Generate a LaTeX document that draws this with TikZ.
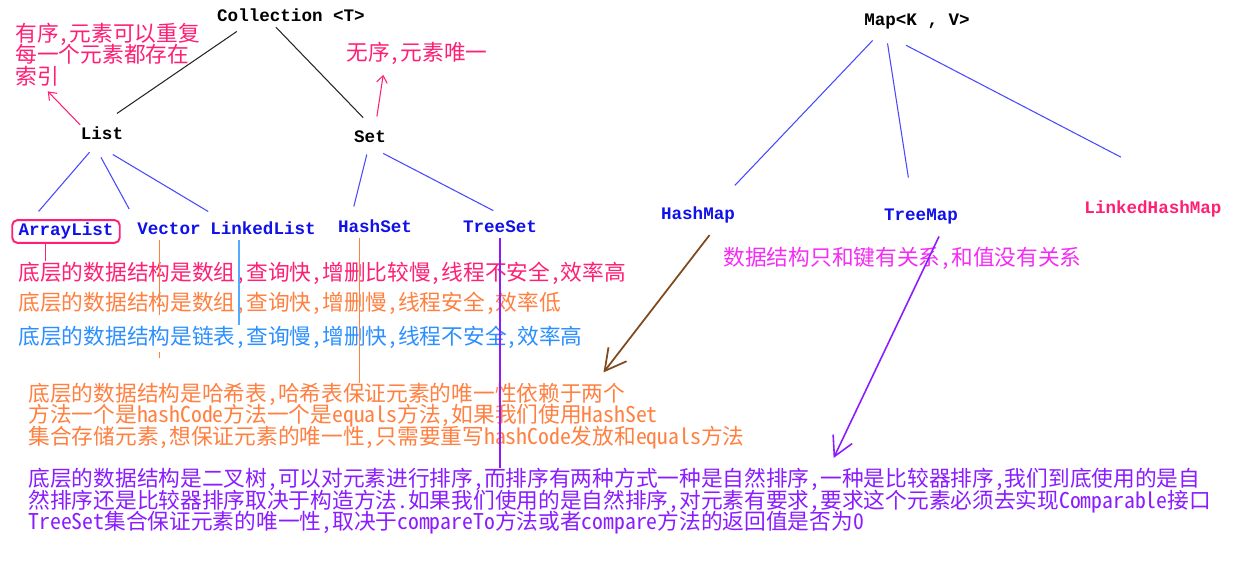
\documentclass[tikz,border=0pt]{standalone}
\usepackage{fontspec}
\newfontfamily\codefont{Liberation Mono}
\newfontfamily\cjkfont[RawFeature=+hwid]{Noto Sans CJK SC}
\usetikzlibrary{arrows.meta}

\definecolor{rose}{HTML}{FF1F74}
\definecolor{lineblue}{HTML}{4848FF}
\definecolor{labelblue}{HTML}{1010E8}
\definecolor{orangea}{HTML}{FF8040}
\definecolor{skyblue}{HTML}{2B8FFF}
\definecolor{linkblue}{HTML}{55AAFF}
\definecolor{violeta}{HTML}{8A1CFF}
\definecolor{magentaa}{HTML}{F52CF5}
\definecolor{arrowbrown}{HTML}{7F4A1E}

\newcommand{\labelfont}{\codefont\bfseries\fontsize{10pt}{12pt}\selectfont}
\newcommand{\notefont}{\cjkfont\fontsize{12.35pt}{12pt}\selectfont\lineskiplimit=-20pt}

\begin{document}
\begin{tikzpicture}[x=0.02cm, y=-0.02cm, semithick]
\tikzstyle{cls}=[font=\labelfont, text height=7pt, text depth=2pt, inner sep=1pt]
\tikzstyle{impl}=[cls, text=labelblue]
\tikzstyle{note}=[font=\notefont, inner sep=0pt, align=left]
\tikzstyle{root}=[color=black!85, line width=0.6pt]
\tikzstyle{tree}=[color=lineblue, line width=0.6pt]
\tikzstyle{pinkarrow}=[color=rose, line width=0.6pt, -{Straight Barb[length=4pt, width=6pt]}]
\tikzstyle{brownarrow}=[color=arrowbrown, line width=1pt, -{Straight Barb[length=12pt, width=13pt]}]
\tikzstyle{violetarrow}=[color=violeta, line width=0.9pt, -{Straight Barb[length=11pt, width=12pt]}]

\path[fill=white, use as bounding box] (0,0) rectangle (1240,573);

\node[cls] (coll) at (291,17) {Collection <T>};
\node[cls] (list) at (102,135) {List};
\node[cls] (set) at (370,138) {Set};
\node[impl, draw=rose, rounded corners=3pt, line width=1.1pt, inner xsep=3.6pt, inner ysep=2pt] (arr) at (66,231.5) {ArrayList};
\node[impl] (vec) at (169,230) {Vector};
\node[impl] (lnk) at (263,230) {LinkedList};
\node[impl] (hs) at (375,228) {HashSet};
\node[impl] (ts) at (500,228) {TreeSet};
\node[cls] (mp) at (917,21) {Map<K , V>};
\node[impl] (hm) at (698,215) {HashMap};
\node[impl] (tm) at (921,216) {TreeMap};
\node[cls, text=rose] (lhm) at (1153,209) {LinkedHashMap};

\node[note, text=rose, anchor=north west] (ordtxt) at (15,23) {有序,元素可以重复\\每一个元素都存在\\索引};
\node[note, text=rose, anchor=west] (unqtxt) at (346,53) {无序,元素唯一};
\node[note, text=rose, anchor=west] (arrtxt) at (18,273) {底层的数据结构是数组,查询快,增删比较慢,线程不安全,效率高};
\node[note, text=orangea, anchor=west] (vectxt) at (18,303) {底层的数据结构是数组,查询快,增删慢,线程安全,效率低};
\node[note, text=skyblue, anchor=west] (lnktxt) at (18,337) {底层的数据结构是链表,查询慢,增删快,线程不安全,效率高};
\node[note, text=orangea, anchor=north west] (hashtxt) at (28,383) {底层的数据结构是哈希表,哈希表保证元素的唯一性依赖于两个\\方法一个是hashCode方法一个是equals方法,如果我们使用HashSet\\集合存储元素,想保证元素的唯一性,只需要重写hashCode发放和equals方法};
\node[note, text=violeta, anchor=north west] (treetxt) at (28,468) {底层的数据结构是二叉树,可以对元素进行排序,而排序有两种方式一种是自然排序,一种是比较器排序,我们到底使用的是自\\然排序还是比较器排序取决于构造方法.如果我们使用的是自然排序,对元素有要求,要求这个元素必须去实现Comparable接口\\TreeSet集合保证元素的唯一性,取决于compareTo方法或者compare方法的返回值是否为0};
\node[note, text=magentaa, anchor=west] (keytxt) at (723,258) {数据结构只和键有关系,和值没有关系};

\path[root] (coll.192) edge[shorten <=4.3pt, shorten >=11.4pt] (list.99);
\path[root] (coll.214) edge[shorten >=8pt] (set.74);
\path[tree] (list.238) edge[shorten <=5.3pt, shorten >=5.8pt] (arr.160);
\path[tree] (list.233) edge[shorten <=7.9pt, shorten >=7pt] (vec.north west);
\path[tree] (list.245) edge[shorten <=10.3pt, shorten >=9.2pt] (lnk.166);
\path[tree] (set.261) edge[shorten <=3.7pt, shorten >=6.6pt] (hs.157);
\path[tree] (set.287) edge[shorten <=6.5pt, shorten >=8.9pt] (ts.55);
\path[tree] (mp.196) edge[shorten <=7.3pt, shorten >=15.2pt] (hm.29);
\path[tree] (mp.198) edge[shorten <=7pt, shorten >=16.2pt] (tm.129);
\path[tree] (mp.195) edge[shorten <=17.4pt, shorten >=51.4pt] (lhm.12);

\path[pinkarrow] (list.155) edge[shorten >=4pt] (ordtxt.206);
\path[pinkarrow] (set.63) edge[shorten <=6.5pt, shorten >=5.8pt] (unqtxt.200);
\path[brownarrow] (hm.332) edge[shorten <=7.1pt, shorten >=7.6pt] (hashtxt.9);
\path[violetarrow] (tm.336) edge[shorten <=6.5pt, shorten >=6.3pt] (treetxt.9);

\draw[color=rose, line width=0.8pt] (arr.211) -- (arr.211 |- arrtxt.north);
\draw[color=orangea, line width=0.8pt, dash pattern=on 42.5pt off 21pt on 3.4pt off 10pt] (vec.227) -- ++(0,118);
\draw[color=linkblue, line width=0.8pt] (lnk.203) -- (lnk.203 |- lnktxt.north);
\draw[color=orangea, line width=0.8pt] (hs.213) -- (hs.213 |- hashtxt.north);
\draw[color=violeta, line width=0.8pt] (ts.south) -- (ts.south |- treetxt.north);
\end{tikzpicture}
\end{document}
